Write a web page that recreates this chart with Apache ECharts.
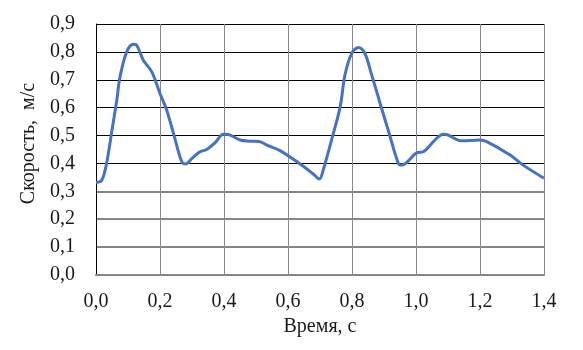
<!DOCTYPE html>
<html>
<head>
<meta charset="utf-8">
<script src="https://cdn.jsdelivr.net/npm/echarts@6/dist/echarts.min.js"></script>
<style>
html,body{margin:0;padding:0;background:#fff;}
#chart{width:583px;height:350px;}
</style>
</head>
<body>
<div id="chart"></div>
<script>
var timeValues = [0.000, 0.018, 0.033, 0.050, 0.065, 0.075, 0.096, 0.117, 0.127, 0.148, 0.174, 0.200, 0.221, 0.242, 0.268, 0.280, 0.300, 0.325, 0.346, 0.372, 0.398, 0.413, 0.450, 0.481, 0.510, 0.534, 0.575, 0.638, 0.679, 0.698, 0.710, 0.736, 0.763, 0.778, 0.799, 0.820, 0.840, 0.860, 0.888, 0.913, 0.945, 0.955, 1.002, 1.023, 1.059, 1.085, 1.100, 1.143, 1.200, 1.221, 1.294, 1.335, 1.400];
var speedValues = [0.332, 0.340, 0.400, 0.520, 0.627, 0.710, 0.800, 0.827, 0.824, 0.770, 0.729, 0.651, 0.591, 0.508, 0.406, 0.398, 0.418, 0.442, 0.450, 0.474, 0.505, 0.504, 0.484, 0.480, 0.479, 0.466, 0.446, 0.398, 0.362, 0.344, 0.376, 0.484, 0.603, 0.717, 0.795, 0.816, 0.795, 0.723, 0.615, 0.520, 0.400, 0.394, 0.438, 0.442, 0.484, 0.505, 0.502, 0.481, 0.484, 0.478, 0.430, 0.394, 0.347];
var yTicks = [0, 0.1, 0.2, 0.3, 0.4, 0.5, 0.6, 0.7, 0.8, 0.9];
var xTicks = [0, 0.2, 0.4, 0.6, 0.8, 1.0, 1.2, 1.4];
var xName = 'Время, с';
var yName = 'Скорость,  м/с';

var fontFam = '"Liberation Serif", "Times New Roman", serif';
var textColor = '#1a1a1a';
function fmt(v){ return v.toFixed(1).replace('.', ','); }

var seriesData = timeValues.map(function(t, i){ return [t, speedValues[i]]; });

var grayColors = yTicks.map(function(v){ return v < 0.35 ? '#858585' : 'rgba(0,0,0,0)'; });
var blackColors = yTicks.map(function(v){ return v < 0.35 ? 'rgba(0,0,0,0)' : '#000000'; });

var chart = echarts.init(document.getElementById('chart'));
chart.setOption({
  animation: false,
  backgroundColor: '#ffffff',
  grid: {left: 96, right: 39, top: 24, bottom: 75, containLabel: false},
  xAxis: {
    type: 'value', min: 0, max: 1.4, interval: 0.2,
    name: xName, nameLocation: 'middle', nameGap: 40,
    nameTextStyle: {fontFamily: fontFam, fontSize: 20, color: textColor},
    axisLine: {show: true, onZero: false, lineStyle: {color: '#858585', width: 2}},
    axisTick: {show: false},
    axisLabel: {formatter: fmt, fontFamily: fontFam, fontSize: 20, color: textColor, margin: 17},
    splitLine: {show: true, lineStyle: {color: '#8a8a8a', width: 1}}
  },
  yAxis: [{
    type: 'value', min: 0, max: 0.9, interval: 0.1,
    name: yName, nameLocation: 'middle', nameGap: 57,
    nameTextStyle: {fontFamily: fontFam, fontSize: 20, color: textColor, padding: [0, 0, 0, 12]},
    axisLine: {show: true, lineStyle: {color: '#000', width: 1}},
    axisTick: {show: false},
    axisLabel: {formatter: fmt, fontFamily: fontFam, fontSize: 20, color: textColor, margin: 21},
    splitLine: {show: true, lineStyle: {color: blackColors, width: 1}}
  }, {
    type: 'value', min: 0, max: 0.9, interval: 0.1, position: 'left',
    axisLine: {show: false}, axisTick: {show: false}, axisLabel: {show: false},
    splitLine: {show: true, lineStyle: {color: grayColors, width: 2}}
  }],
  series: [{
    type: 'line',
    data: seriesData,
    smooth: 0.35,
    showSymbol: false,
    symbol: 'none',
    lineStyle: {color: '#4472C4', width: 3},
    z: 5
  }]
});
</script>
</body>
</html>
